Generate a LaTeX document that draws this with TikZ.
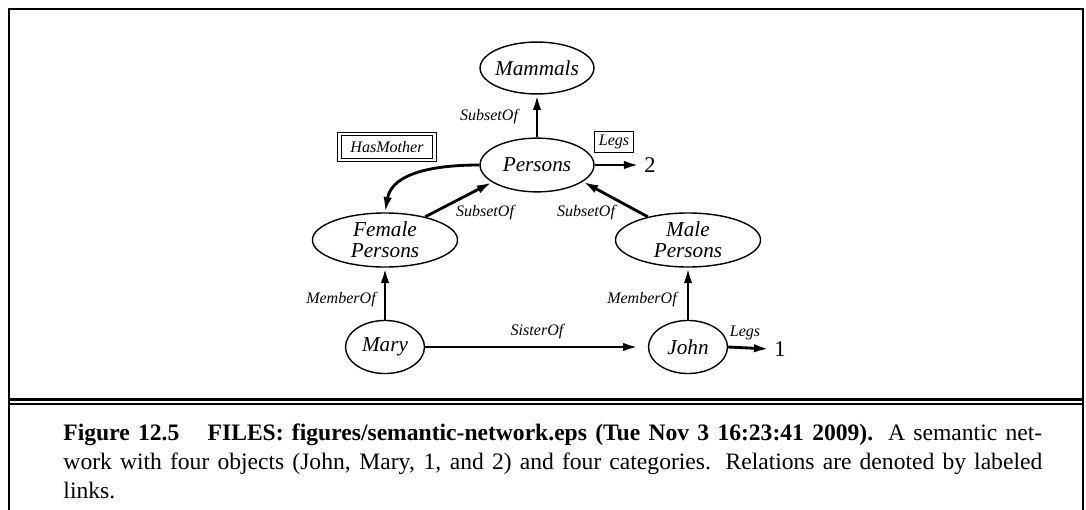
\documentclass[tikz,border=0pt]{standalone}
\usepackage{fontspec}
\setmainfont{Liberation Serif}
\usetikzlibrary{shapes.geometric,arrows.meta}

\begin{document}
\begin{tikzpicture}[
    x=0.424pt, y=-0.424pt,
    nodo/.style={ellipse, draw=black, line width=0.6pt, inner sep=-3pt, align=center,
                 font=\fontsize{9}{9}\selectfont\itshape},
    flecha/.style={-{Latex[length=6.5pt,width=3.6pt]}, line width=1.2pt},
    etiqueta/.style={inner sep=0pt, font=\fontsize{6.8}{8}\selectfont\itshape},
    caja/.style={etiqueta, draw=black, line width=0.4pt, inner xsep=2pt, inner ysep=1.5pt},
    cajadoble/.style={etiqueta, draw=black, line width=0.4pt, double, double distance=1.2pt,
                      minimum width=40pt, minimum height=11pt},
    valor/.style={inner sep=2pt, font=\fontsize{9.5}{10}\selectfont},
    marco/.style={line width=1pt}
]
    \useasboundingbox (0,0) rectangle (1086,510);

    % --- MARCO DE LA FIGURA ---
    \draw[marco] (9,510) -- (9,9) -- (1083,9) -- (1083,510);
    \draw[marco] (9,399.5) -- (1083,399.5);
    \draw[marco] (9,404) -- (1083,404);

    % --- CATEGORIAS ---
    \node[nodo, minimum width=48.3pt, minimum height=22pt] (Mammals) at (537,68) {Mammals};
    \node[nodo, minimum width=48.3pt, minimum height=22.8pt] (Persons) at (537,165) {Persons};
    \node[nodo, minimum width=61.5pt, minimum height=22.9pt] (Female) at (385,240) {Female\\Persons};
    \node[nodo, minimum width=61.5pt, minimum height=22.9pt] (Male) at (688,240) {Male\\Persons};

    % --- OBJETOS ---
    \node[nodo, minimum width=33.5pt, minimum height=22.5pt] (Mary) at (385,347) {Mary};
    \node[nodo, minimum width=33.5pt, minimum height=22.5pt] (John) at (688,347) {John};
    \node[valor] (dos) at (650,165) {2};
    \node[valor] (uno) at (780,349) {1};

    % --- RELACIONES ---
    \draw[flecha] (Persons.north) -- (Mammals.south);
    \draw[flecha] (Female.30) -- (Persons.201);
    \draw[flecha] (Male.150) -- (Persons.-20);
    \draw[flecha] (Mary.north) -- (Female.south);
    \draw[flecha] (John.north) -- (Male.south);
    \draw[flecha, shorten >=4pt] (Mary.east) -- (John.west);
    \draw[flecha] (Persons.east) -- (dos.west);
    \draw[flecha] (John.east) -- (uno.west);
    \draw[flecha] (Persons.west) to[out=180, in=80] (Female.north);

    % --- ETIQUETAS ---
    \node[etiqueta] (lSubM) at (489,117) {SubsetOf};
    \node[etiqueta] (lSubF) at (485,213) {SubsetOf};
    \node[etiqueta] (lSubH) at (586,213) {SubsetOf};
    \node[etiqueta] (lMemF) at (341,300) {MemberOf};
    \node[etiqueta] (lMemH) at (642,300) {MemberOf};
    \node[etiqueta] (lSis) at (537,332) {SisterOf};
    \node[etiqueta] (lLegs) at (745,333) {Legs};
    \node[caja] (bLegs) at (614,142) {Legs};
    \node[cajadoble] (bMother) at (387,147) {HasMother};

    % --- LEYENDA ---
    \node[anchor=north west, inner sep=0pt, text width=415pt, align=justify,
          font=\fontsize{10}{12}\selectfont] (leyenda) at (63,423.5)
    {\noindent\baselineskip=12.2pt\textbf{Figure 12.5}\hspace{12pt}\textbf{FILES: figures/semantic-network.eps (Tue Nov 3 16:23:41 2009).} A semantic net-\linebreak work with four objects (John, Mary, 1, and 2) and four categories.  Relations are denoted by labeled\linebreak links.\par};
\end{tikzpicture}
\end{document}
